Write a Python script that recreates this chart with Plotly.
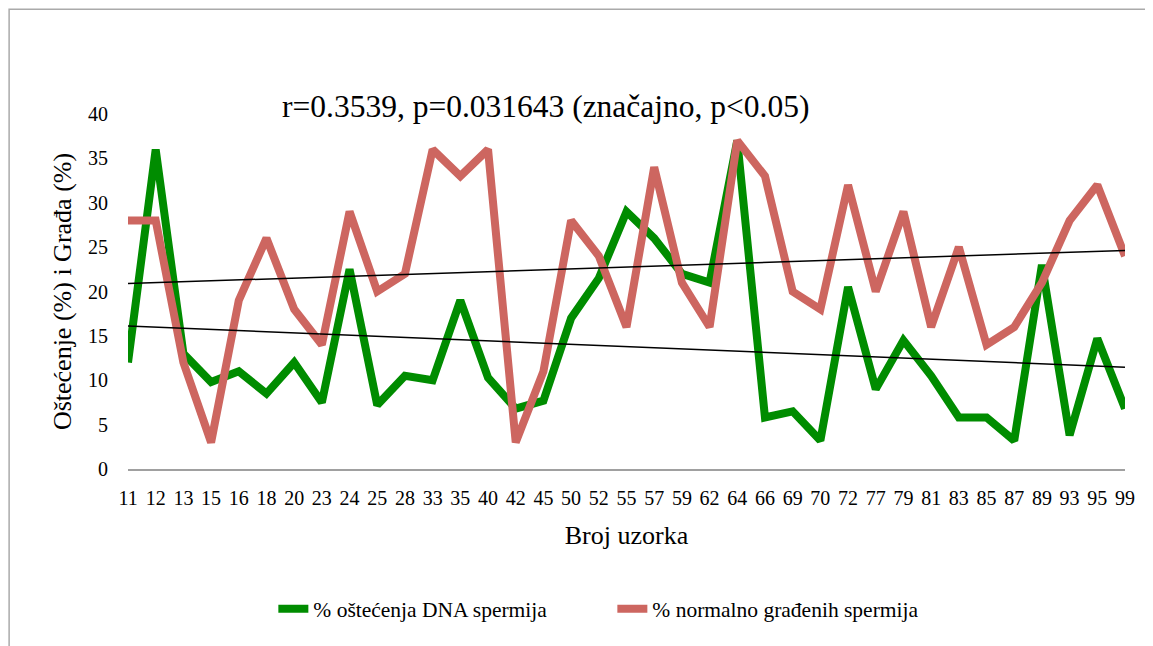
import numpy as np
import plotly.graph_objects as go

categories = ["11", "12", "13", "15", "16", "18", "20", "23", "24", "25", "28", "33", "35", "40", "42",
              "45", "50", "52", "55", "57", "59", "62", "64", "66", "69", "70", "72", "77", "79", "81",
              "83", "85", "87", "89", "93", "95", "99"]
dna_damage = [12, 36, 13, 9.8, 11, 8.5, 12, 7.5, 22.5, 7.2, 10.5, 10, 19, 10.3, 6.8,
              7.7, 17, 21.5, 29, 26, 22, 21, 37, 5.8, 6.5, 3.2, 20.5, 9, 14.5, 10.5,
              5.8, 5.8, 3.2, 23, 3.8, 14.7, 6.8]
normal_morph = [28, 28, 12, 3, 19, 26, 18, 14, 29, 20, 22, 36, 33, 36, 3,
                11, 28, 24, 16, 34, 21, 16, 37, 33, 20, 18, 32, 20, 29, 16,
                25, 14, 16, 21, 28, 32, 24]
y_ticks = [0, 5, 10, 15, 20, 25, 30, 35, 40]

title_text = "r=0.3539, p=0.031643 (značajno, p<0.05)"
x_title = "Broj uzorka"
y_title = "Oštećenje (%) i Građa (%)"
name_dna = "% oštećenja DNA spermija"
name_norm = "% normalno građenih spermija"

GREEN = "rgb(0,140,0)"
RED = "rgb(205,102,96)"
FONT = "Liberation Serif"

idx = np.arange(len(categories))
fit_d = np.polyval(np.polyfit(idx, dna_damage, 1), idx)
fit_n = np.polyval(np.polyfit(idx, normal_morph, 1), idx)

fig = go.Figure()
fig.add_trace(go.Scatter(x=categories, y=dna_damage, mode="lines", name=name_dna,
                         line=dict(color=GREEN, width=8)))
fig.add_trace(go.Scatter(x=categories, y=normal_morph, mode="lines", name=name_norm,
                         line=dict(color=RED, width=8)))
fig.add_trace(go.Scatter(x=categories, y=fit_d, mode="lines", showlegend=False,
                         line=dict(color="black", width=1.5), hoverinfo="skip"))
fig.add_trace(go.Scatter(x=categories, y=fit_n, mode="lines", showlegend=False,
                         line=dict(color="black", width=1.5), hoverinfo="skip"))

OFF = 8  # page offset of the figure (body margin)
W, H = 1153, 646
L = 127.5 - OFF
R = W - (1125.5 - OFF)
T = 113.5 - OFF
B = H - (469 - OFF)
pw, ph = W - L - R, H - T - B


def px(x):
    return (x - OFF - L) / pw


def py(y):
    return (H - B - (y - OFF)) / ph


fig.update_layout(
    width=W, height=H,
    margin=dict(l=L, r=R, t=T, b=B, autoexpand=False),
    paper_bgcolor="white", plot_bgcolor="white",
    font=dict(family=FONT, color="black", size=20),
    showlegend=True,
    legend=dict(orientation="h", x=px(273), y=py(609), xanchor="left", yanchor="middle",
                font=dict(size=21.5, family=FONT), entrywidth=294, entrywidthmode="pixels",
                itemwidth=30, bgcolor="rgba(0,0,0,0)", traceorder="normal"),
    xaxis=dict(type="category", showgrid=False, zeroline=False, showline=True,
               linecolor="rgb(160,160,160)", linewidth=2, ticks="", ticklabelstandoff=10,
               tickfont=dict(size=20, family=FONT),
               title=dict(text=x_title, font=dict(size=26, family=FONT), standoff=18)),
    yaxis=dict(range=[0, 40], tickvals=y_ticks, showgrid=False, zeroline=False,
               showline=False, ticks="", ticklabelstandoff=19,
               tickfont=dict(size=20, family=FONT),
               title=dict(text=y_title, font=dict(size=26, family=FONT), standoff=8)),
    annotations=[dict(text=title_text, xref="paper", yref="paper", x=px(545), y=py(106),
                      xanchor="center", yanchor="middle", showarrow=False,
                      font=dict(size=31.5, family=FONT, color="black"))],
    shapes=[dict(type="rect", xref="paper", yref="paper", x0=px(8.5), y0=py(8.5),
                 x1=px(1300), y1=py(800), line=dict(color="rgb(170,170,170)", width=1.5),
                 fillcolor="rgba(0,0,0,0)", layer="below")],
)

fig.write_html("out.html")
